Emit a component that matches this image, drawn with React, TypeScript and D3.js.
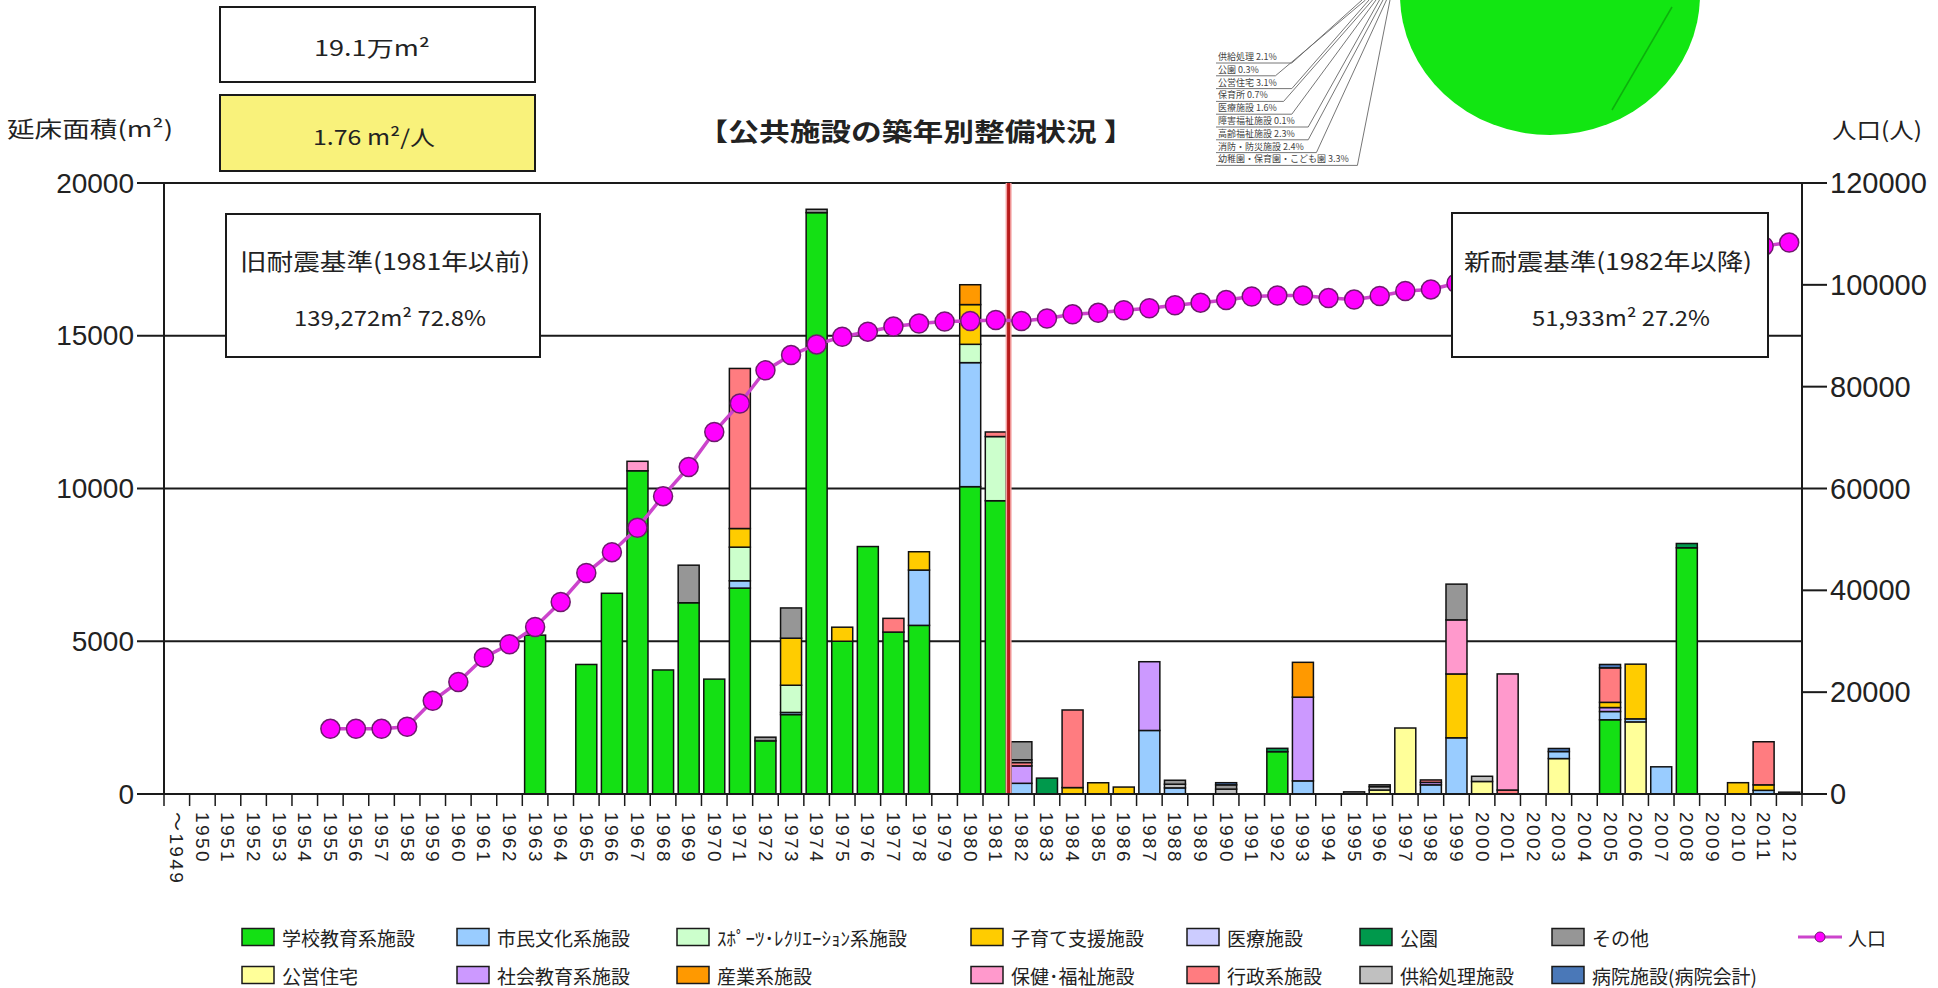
import React from "react";
import * as d3 from "d3";

// ---------------- DATA ----------------
const years: string[] = [
  "～1949", "1950", "1951", "1952", "1953", "1954", "1955", "1956", "1957", "1958", "1959",
  "1960", "1961", "1962", "1963", "1964", "1965", "1966", "1967", "1968", "1969",
  "1970", "1971", "1972", "1973", "1974", "1975", "1976", "1977", "1978", "1979",
  "1980", "1981", "1982", "1983", "1984", "1985", "1986", "1987", "1988", "1989",
  "1990", "1991", "1992", "1993", "1994", "1995", "1996", "1997", "1998", "1999",
  "2000", "2001", "2002", "2003", "2004", "2005", "2006", "2007", "2008", "2009",
  "2010", "2011", "2012",
];

// population (right axis), aligned with years
const population: (number | null)[] = [
  null, null, null, null, null, null,
  12800, 12800, 12800, 13200, 18300,
  22000, 26800, 29400, 32800, 37700, 43400, 47500, 52300, 58500, 64200,
  71100, 76700, 83200, 86200, 88300, 89800, 90800, 91800, 92400, 92800,
  92900, 93100, 92900, 93400, 94200, 94500, 95000, 95400, 96000, 96500,
  97000, 97700, 97900, 97900, 97400, 97100, 97800, 98800, 99100, 100300,
  101000, 101600, 102200, 102800, 103300, 103900, 104500, 105100, 105800, 106400,
  107000, 107600, 108300,
];

type Pair = [number, number]; // [year, floor area m2]
const school: Pair[] = [
  [1963, 5200], [1965, 4240], [1966, 6570], [1967, 10580], [1968, 4060], [1969, 6260],
  [1970, 3760], [1971, 6740], [1972, 1740], [1973, 2600], [1974, 19030], [1975, 5000],
  [1976, 8100], [1977, 5300], [1978, 5520], [1980, 10060], [1981, 9600], [1992, 1385],
  [2005, 2430], [2008, 8060],
];
const housing: Pair[] = [[1996, 130], [1997, 2160], [2000, 410], [2003, 1160], [2006, 2360]];
const civic: Pair[] = [
  [1971, 240], [1973, 70], [1978, 1810], [1980, 4060], [1982, 350], [1987, 2080], [1988, 200],
  [1993, 430], [1998, 300], [1999, 1840], [2003, 230], [2005, 270], [2006, 100], [2007, 890],
  [2011, 120],
];
const social: Pair[] = [[1982, 570], [1987, 2250], [1993, 2740], [1998, 80], [2005, 130]];
const sports: Pair[] = [[1971, 1100], [1973, 890], [1980, 600], [1981, 2100]];
const childcare: Pair[] = [
  [1971, 610], [1973, 1540], [1975, 460], [1978, 600], [1980, 1300], [1984, 210], [1985, 368],
  [1986, 227], [1999, 2090], [2005, 170], [2006, 1790], [2010, 370], [2011, 180],
];
const industry: Pair[] = [[1980, 650], [1993, 1140]];
const admin: Pair[] = [
  [1971, 5240], [1977, 450], [1981, 150], [1982, 110], [1984, 2540], [1998, 80], [2001, 130],
  [2005, 1130], [2011, 1410],
];
const welfare: Pair[] = [[1967, 310], [1999, 1770], [2001, 3800]];
const medical: Pair[] = [];
const park: Pair[] = [[1983, 520], [1992, 110], [2008, 140]];
const supply: Pair[] = [[1982, 90], [1988, 120], [1990, 160], [1996, 110], [2000, 170]];
const other: Pair[] = [
  [1969, 1230], [1972, 120], [1973, 990], [1974, 110], [1982, 590], [1988, 130], [1990, 140],
  [1995, 70], [1996, 60], [1999, 1170], [2012, 60],
];
const hospital: Pair[] = [[1990, 70], [2003, 100], [2005, 110]];

const seriesDefs = [
  { key: "school", name: "学校教育系施設", color: "#14E014", data: school },
  { key: "housing", name: "公営住宅", color: "#FFFF99", data: housing },
  { key: "civic", name: "市民文化系施設", color: "#99CCFF", data: civic },
  { key: "social", name: "社会教育系施設", color: "#CC99FF", data: social },
  { key: "sports", name: "ｽﾎﾟｰﾂ･ﾚｸﾘｴｰｼｮﾝ系施設", color: "#CCFFCC", data: sports },
  { key: "childcare", name: "子育て支援施設", color: "#FFCC00", data: childcare },
  { key: "industry", name: "産業系施設", color: "#FF9900", data: industry },
  { key: "admin", name: "行政系施設", color: "#FF7C80", data: admin },
  { key: "welfare", name: "保健･福祉施設", color: "#FF99CC", data: welfare },
  { key: "medical", name: "医療施設", color: "#CCCCFF", data: medical },
  { key: "park", name: "公園", color: "#00994C", data: park },
  { key: "supply", name: "供給処理施設", color: "#C0C0C0", data: supply },
  { key: "other", name: "その他", color: "#969696", data: other },
  { key: "hospital", name: "病院施設(病院会計)", color: "#4A78B8", data: hospital },
];

const legendRow1 = ["school", "civic", "sports", "childcare", "medical", "park", "other"];
const legendRow2 = ["housing", "social", "industry", "welfare", "admin", "supply", "hospital"];

const leftTicks = [0, 5000, 10000, 15000, 20000];
const rightTicks = [0, 20000, 40000, 60000, 80000, 100000, 120000];

const pieLabels = [
  "供給処理 2.1%", "公園 0.3%", "公営住宅 3.1%", "保育所 0.7%", "医療施設 1.6%",
  "障害福祉施設 0.1%", "高齢福祉施設 2.3%", "消防・防災施設 2.4%", "幼稚園・保育園・こども園 3.3%",
];

// ---------------- LAYOUT ----------------
const W = 1938;
const H = 988;
const PL = 164, PR = 1802, PT = 183, PB = 794;
const JP = "'Noto Sans CJK JP', 'Noto Sans', sans-serif";
const NUM = "'Liberation Sans', Arial, 'Noto Sans CJK JP', sans-serif";

export default function App() {
  const x = d3.scaleBand<string>().domain(years).range([PL, PR]).paddingInner(0.18).paddingOuter(0.09);
  const step = x.step();
  const bw = x.bandwidth();
  const yL = d3.scaleLinear().domain([0, 20000]).range([PB, PT]);
  const yR = d3.scaleLinear().domain([0, 120000]).range([PB, PT]);

  const table = years.map((yr) => {
    const row: any = { year: yr };
    seriesDefs.forEach((s) => (row[s.key] = 0));
    return row;
  });
  seriesDefs.forEach((s) =>
    s.data.forEach(([yr, v]) => {
      const idx = years.indexOf(String(yr));
      if (idx >= 0) table[idx][s.key] = v;
    })
  );
  const stacked = d3.stack<any>().keys(seriesDefs.map((s) => s.key))(table);
  const colorOf: Record<string, string> = {};
  const nameOf: Record<string, string> = {};
  seriesDefs.forEach((s) => {
    colorOf[s.key] = s.color;
    nameOf[s.key] = s.name;
  });

  const cx = (i: number) => (x(years[i]) as number) + bw / 2;
  const popLine = d3
    .line<number | null>()
    .defined((d) => d != null)
    .x((_, i) => cx(i))
    .y((d) => yR(d as number))(population);

  const redX = PL + years.indexOf("1982") * step;

  const legendCols = [242, 457, 677, 971, 1187, 1360, 1552];

  return (
    <svg
      width={W}
      height={H}
      viewBox={`0 0 ${W} ${H}`}
      style={{ position: "absolute", left: 0, top: 0, display: "block", background: "#fff" }}
    >
      <rect x={0} y={0} width={W} height={H} fill="#fff" />

      {/* cropped pie chart at top right */}
      <g>
        <ellipse cx={1550} cy={-5} rx={150} ry={140} fill="#12E612" />
        <line x1={1672} y1={7} x2={1612} y2={110} stroke="#0CB00C" strokeWidth={1.5} />
        {pieLabels.map((t, k) => {
          const ly = 62 + k * 12.8;
          const lx = 1218;
          const tw = Math.max(44, t.length * 8.2);
          return (
            <g key={t}>
              <text x={lx} y={ly - 2} fontFamily={JP} fontSize={9} fill="#444">
                {t}
              </text>
              <polyline
                points={`${lx - 2},${ly + 1} ${lx + tw},${ly + 1} ${1362 + k * 3.5},0`}
                fill="none"
                stroke="#666"
                strokeWidth={0.9}
              />
            </g>
          );
        })}
      </g>

      {/* grid lines */}
      {leftTicks.slice(1).map((t) => (
        <line key={t} x1={PL} x2={PR} y1={yL(t)} y2={yL(t)} stroke="#1a1a1a" strokeWidth={2} />
      ))}

      {/* bars */}
      {stacked.map((layer) => (
        <g key={layer.key} fill={colorOf[layer.key]}>
          {layer.map((d, i) =>
            d[1] - d[0] > 0 ? (
              <rect
                key={i}
                x={x(d.data.year)}
                y={yL(d[1])}
                width={bw}
                height={yL(d[0]) - yL(d[1])}
                stroke="#111"
                strokeWidth={1.5}
              />
            ) : null
          )}
        </g>
      ))}

      {/* red divider 1981 / 1982 */}
      <line x1={redX} x2={redX} y1={PT} y2={PB} stroke="#F4A0A0" strokeWidth={6} />
      <line x1={redX} x2={redX} y1={PT} y2={PB} stroke="#B81C1C" strokeWidth={3} />

      {/* population line */}
      <path d={popLine || ""} fill="none" stroke="#CC44CC" strokeWidth={3.5} />
      {population.map((p, i) =>
        p == null ? null : (
          <circle key={i} cx={cx(i)} cy={yR(p)} r={9.5} fill="#FF00FF" stroke="#6E1A6E" strokeWidth={1.5} />
        )
      )}

      {/* annotation boxes */}
      <g fontFamily={JP} fill="#222">
        <rect x={226} y={214} width={314} height={143} fill="#fff" stroke="#1a1a1a" strokeWidth={2} />
        <text x={385} y={260} fontSize={23} textAnchor="middle" dominantBaseline="central" textLength={290} lengthAdjust="spacingAndGlyphs">
          旧耐震基準(1981年以前)
        </text>
        <text x={390} y={317} fontSize={21} textAnchor="middle" dominantBaseline="central" textLength={192} lengthAdjust="spacingAndGlyphs">
          139,272m² 72.8%
        </text>
        <rect x={1452} y={213} width={316} height={144} fill="#fff" stroke="#1a1a1a" strokeWidth={2} />
        <text x={1608} y={260} fontSize={23} textAnchor="middle" dominantBaseline="central" textLength={288} lengthAdjust="spacingAndGlyphs">
          新耐震基準(1982年以降)
        </text>
        <text x={1621} y={317} fontSize={21} textAnchor="middle" dominantBaseline="central" textLength={178} lengthAdjust="spacingAndGlyphs">
          51,933m² 27.2%
        </text>
      </g>

      {/* axes */}
      <g stroke="#1a1a1a" strokeWidth={2}>
        <line x1={PL} x2={PL} y1={PT} y2={PB} />
        <line x1={PR} x2={PR} y1={PT} y2={PB} />
        <line x1={PL - 27} x2={PR} y1={PB} y2={PB} />
        {leftTicks.map((t) => (
          <line key={"lt" + t} x1={PL - 27} x2={PL} y1={yL(t)} y2={yL(t)} />
        ))}
        {rightTicks.map((t) => (
          <line key={"rt" + t} x1={PR} x2={PR + 25} y1={yR(t)} y2={yR(t)} />
        ))}
        {years.map((_, i) => (
          <line key={"xt" + i} x1={PL + i * step} x2={PL + i * step} y1={PB} y2={PB + 12} strokeWidth={1.5} />
        ))}
        <line x1={PR} x2={PR} y1={PB} y2={PB + 12} strokeWidth={1.5} />
      </g>
      <g fontFamily={NUM} fill="#222">
        {leftTicks.map((t) => (
          <text key={"ll" + t} x={134} y={yL(t)} fontSize={28} textAnchor="end" dominantBaseline="central">
            {t}
          </text>
        ))}
        {rightTicks.map((t) => (
          <text key={"rl" + t} x={1830} y={yR(t)} fontSize={29} textAnchor="start" dominantBaseline="central">
            {t}
          </text>
        ))}
        {years.map((yr, i) => (
          <text
            key={"xl" + yr}
            x={cx(i)}
            y={812}
            fontSize={19}
            letterSpacing={2.4}
            dominantBaseline="central"
            transform={`rotate(90, ${cx(i)}, 812)`}
          >
            {yr}
          </text>
        ))}
      </g>

      {/* top info boxes and titles */}
      <g fontFamily={JP} fill="#222">
        <rect x={220} y={7} width={315} height={75} fill="#fff" stroke="#1a1a1a" strokeWidth={2} />
        <text x={372} y={47} fontSize={21} textAnchor="middle" dominantBaseline="central" textLength={116} lengthAdjust="spacingAndGlyphs">
          19.1万m²
        </text>
        <rect x={220} y={95} width={315} height={76} fill="#F9F27B" stroke="#1a1a1a" strokeWidth={2} />
        <text x={374} y={136} fontSize={21} textAnchor="middle" dominantBaseline="central" textLength={122} lengthAdjust="spacingAndGlyphs">
          1.76 m²/人
        </text>
        <text x={90} y={127} fontSize={22} textAnchor="middle" dominantBaseline="central" textLength={166} lengthAdjust="spacingAndGlyphs">
          延床面積(m²)
        </text>
        <text x={1877} y={128} fontSize={22} textAnchor="middle" dominantBaseline="central" textLength={90} lengthAdjust="spacingAndGlyphs">
          人口(人)
        </text>
        <text x={916} y={130} fontSize={25} fontWeight={700} textAnchor="middle" dominantBaseline="central" textLength={437} lengthAdjust="spacingAndGlyphs">
          【公共施設の築年別整備状況 】
        </text>
      </g>

      {/* legend */}
      <g fontFamily={JP} fill="#222" fontSize={19}>
        {[legendRow1, legendRow2].map((row, r) =>
          row.map((key, c) => {
            const lx = legendCols[c];
            const ly = r === 0 ? 937 : 975;
            return (
              <g key={key}>
                <rect x={lx} y={ly - 8.5} width={32} height={17} fill={colorOf[key]} stroke="#1a1a1a" strokeWidth={1.5} />
                <text x={lx + 40} y={ly} dominantBaseline="central">
                  {nameOf[key]}
                </text>
              </g>
            );
          })
        )}
        <line x1={1798} x2={1842} y1={937} y2={937} stroke="#CC44CC" strokeWidth={3} />
        <circle cx={1820} cy={937} r={5} fill="#FF00FF" stroke="#6E1A6E" strokeWidth={1} />
        <text x={1848} y={937} dominantBaseline="central">
          人口
        </text>
      </g>
    </svg>
  );
}
